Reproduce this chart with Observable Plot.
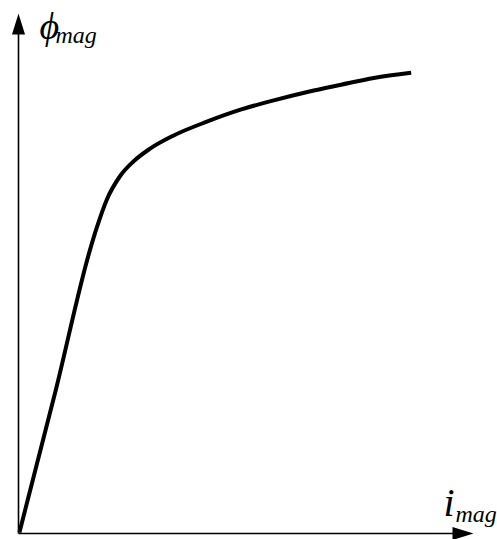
<!DOCTYPE html>
<html>
<head>
<meta charset="utf-8">
<script src="https://cdn.jsdelivr.net/npm/d3@7"></script>
<script src="https://cdn.jsdelivr.net/npm/@observablehq/plot@0.6"></script>
<style>
  html, body { margin: 0; padding: 0; background: #fff; }
  svg { display: block; }
  svg text { font-family: "Liberation Serif", "Times New Roman", serif !important; font-style: italic; }
</style>
</head>
<body>
<div id="chart"></div>
<script>
// Magnetization curve: flux linkage vs. magnetizing current (normalized units)
const iMag   = [0.002, 0.082, 0.157, 0.172, 0.194, 0.223, 0.252, 0.289, 0.340, 0.414, 0.488, 0.561, 0.635, 0.709, 0.781, 0.863];
const phiMag = [0.002, 0.276, 0.545, 0.588, 0.642, 0.687, 0.715, 0.740, 0.765, 0.792, 0.815, 0.833, 0.849, 0.863, 0.876, 0.886];

// axis extents (arrow tips)
const xAxisEnd = [1.0];
const yAxisEnd = [1.0];

// axis labels
const yLabel = ["\u03D5", "mag"];
const xLabel = ["i", "mag"];

const curve = iMag.map((v, k) => ({i: v, phi: phiMag[k]}));

// elongated filled arrowhead, tip at the origin pointing to +x
const arrowHead = {
  draw(context) {
    context.moveTo(0, 0);
    context.lineTo(-21, -6.5);
    context.lineTo(-21, 6.5);
    context.closePath();
  }
};

const font = "Liberation Serif";

const chart = Plot.plot({
  width: 497,
  height: 539,
  marginLeft: 18,
  marginRight: 24,
  marginTop: 13,
  marginBottom: 6,
  style: {fontFamily: font},
  x: {domain: [0, 1], axis: null},
  y: {domain: [0, 1], axis: null},
  marks: [
    // axes
    Plot.link(xAxisEnd, {x1: 0, y1: 0, x2: d => d - 0.03, y2: 0, stroke: "black", strokeWidth: 1.6}),
    Plot.link(yAxisEnd, {x1: 0, y1: 0, x2: 0, y2: d => d - 0.03, stroke: "black", strokeWidth: 1.6}),
    Plot.dot(xAxisEnd, {x: d => d, y: 0, symbol: arrowHead, fill: "black", stroke: null, r: 5}),
    Plot.dot(yAxisEnd, {x: 0, y: d => d, symbol: arrowHead, fill: "black", stroke: null, r: 5, rotate: -90}),
    // curve
    Plot.line(curve, {x: "i", y: "phi", curve: "monotone-x", stroke: "black", strokeWidth: 4, strokeLinecap: "butt", strokeLinejoin: "round"}),
    // labels
    Plot.text([yLabel[0]], {x: 0, y: yAxisEnd[0], text: d => d, textAnchor: "start", lineAnchor: "bottom", dx: 21, dy: 25, fontSize: 38, fontStyle: "italic", fontFamily: font, fill: "black"}),
    Plot.text([yLabel[1]], {x: 0, y: yAxisEnd[0], text: d => d, textAnchor: "start", lineAnchor: "bottom", dx: 37, dy: 29, fontSize: 24, fontStyle: "italic", fontFamily: font, fill: "black"}),
    Plot.text([xLabel[0]], {x: xAxisEnd[0], y: 0, text: d => d, textAnchor: "start", lineAnchor: "bottom", dx: -30, dy: -18, fontSize: 40, fontStyle: "italic", fontFamily: font, fill: "black"}),
    Plot.text([xLabel[1]], {x: xAxisEnd[0], y: 0, text: d => d, textAnchor: "start", lineAnchor: "bottom", dx: -18, dy: -12, fontSize: 24, fontStyle: "italic", fontFamily: font, fill: "black"})
  ]
});

document.getElementById("chart").appendChild(chart);
</script>
</body>
</html>
